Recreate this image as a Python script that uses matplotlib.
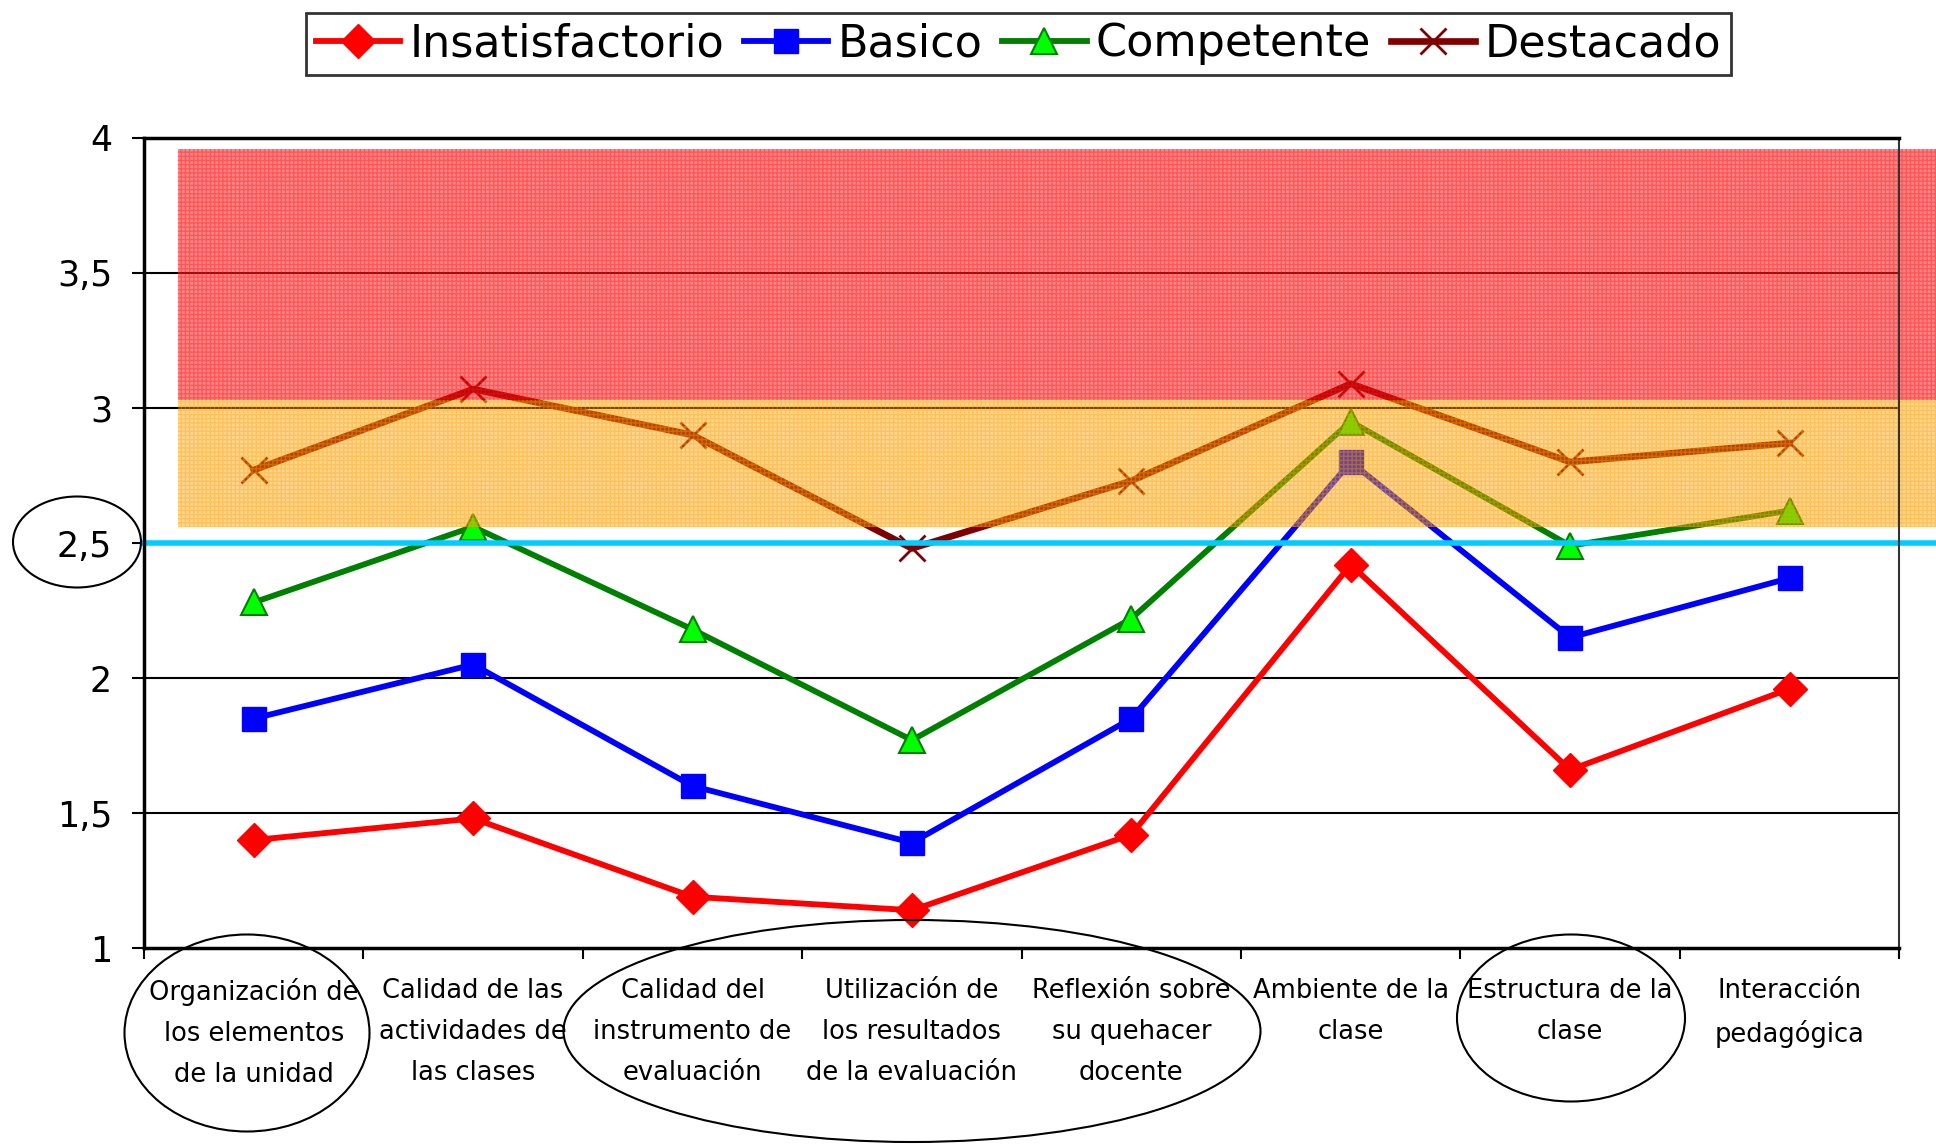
import numpy as np
import matplotlib
matplotlib.use("Agg")
import matplotlib.pyplot as plt
from matplotlib.patches import Ellipse, Rectangle

# categorias del eje x
categorias = [
    "Organización de\nlos elementos\nde la unidad",
    "Calidad de las\nactividades de\nlas clases",
    "Calidad del\ninstrumento de\nevaluación",
    "Utilización de\nlos resultados\nde la evaluación",
    "Reflexión sobre\nsu quehacer\ndocente",
    "Ambiente de la\nclase",
    "Estructura de la\nclase",
    "Interacción\npedagógica",
]

# series
insatisfactorio = [1.40, 1.48, 1.19, 1.14, 1.42, 2.42, 1.66, 1.96]
basico = [1.85, 2.05, 1.60, 1.39, 1.85, 2.80, 2.15, 2.37]
competente = [2.28, 2.56, 2.18, 1.77, 2.22, 2.95, 2.49, 2.62]
destacado = [2.77, 3.07, 2.90, 2.48, 2.73, 3.09, 2.80, 2.87]

# franjas y linea de referencia
franja_roja = (3.03, 3.96)
franja_naranja = (2.56, 3.03)
nivel_ref = 2.5

y_ticks = [1, 1.5, 2, 2.5, 3, 3.5, 4]

plt.rcParams['font.family'] = ['DejaVu Sans']

fig = plt.figure(figsize=(19.36, 11.45), dpi=100)
ax = fig.add_axes([0.0744, 0.172, 0.9066, 0.7075])

x = np.arange(len(categorias))
ax.set_xlim(-0.5, len(categorias) - 0.5)
ax.set_ylim(1, 4)

# lineas de grilla
for v in y_ticks[1:-1]:
    ax.axhline(v, color='black', lw=1.5, zorder=1)

l1, = ax.plot(x, insatisfactorio, color='#ff0000', lw=4.2, marker='D', ms=17,
              mfc='#ff0000', mec='#ff0000', zorder=3, label='Insatisfactorio')
l2, = ax.plot(x, basico, color='#0000ff', lw=4.2, marker='s', ms=17,
              mfc='#0000ff', mec='#0000ff', zorder=3, label='Basico')
l3, = ax.plot(x, competente, color='#008000', lw=4.2, marker='^', ms=19,
              mfc='#00ff00', mec='#008000', mew=1.5, zorder=3, label='Competente')
l4, = ax.plot(x, destacado, color='#800000', lw=4.8, marker='x', ms=19,
              mec='#800000', mew=2, zorder=3, label='Destacado')

# franjas con textura
x0 = -0.345
x1 = 7.7
for (lo, hi), col, a in [(franja_roja, '#ff1010', 0.5), (franja_naranja, '#ffa000', 0.42)]:
    r = Rectangle((x0, lo), x1 - x0, hi - lo, facecolor=col, alpha=a,
                  edgecolor='none', zorder=4, clip_on=False)
    ax.add_patch(r)
    h = Rectangle((x0, lo), x1 - x0, hi - lo, facecolor='none',
                  edgecolor=col, hatch='++++', lw=0, alpha=0.4,
                  zorder=4, clip_on=False)
    ax.add_patch(h)

ax.plot([-0.5, x1], [nivel_ref, nivel_ref], color='#00ccff', lw=4,
        zorder=5, clip_on=False)

# ejes
for s in ['left', 'top', 'bottom']:
    ax.spines[s].set_linewidth(2.5)
ax.spines['right'].set_linewidth(1.5)
ax.spines['right'].set_color('#333333')
for s in ax.spines.values():
    s.set_zorder(6)

ax.set_yticks(y_ticks)
ax.set_yticklabels([f"{v:g}".replace('.', ',') for v in y_ticks], fontsize=25)
ax.tick_params(axis='y', direction='out', length=9, width=1.5, pad=14)

ax.set_xticks(x)
ax.set_xticklabels(categorias, fontsize=18.5, linespacing=1.75)
ax.tick_params(axis='x', which='major', length=0, pad=21.5)
ax.set_xticks(np.arange(-0.5, len(categorias), 1), minor=True)
ax.tick_params(axis='x', which='minor', direction='out', length=8, width=1.5)

# leyenda
leg = fig.legend(handles=[l1, l2, l3, l4], loc='center', ncol=4,
                 bbox_to_anchor=(0.526, 0.9616), fontsize=32, frameon=True,
                 fancybox=False, handlelength=1.9, handletextpad=0.2,
                 columnspacing=0.45, borderpad=0.22)
leg.get_frame().set_edgecolor('black')
leg.get_frame().set_linewidth(2)

# elipses de anotacion (coordenadas de figura)
W, H = 1936, 1145
for cx, cy, w, h in [(77, 542, 128, 91), (247, 1033, 245, 197),
                     (912, 1031, 697, 222), (1571, 1018, 228, 167)]:
    e = Ellipse((cx / W, 1 - cy / H), w / W, h / H, transform=fig.transFigure,
                facecolor='none', edgecolor='black', lw=1.5)
    fig.add_artist(e)

fig.savefig('out.png', dpi=100)
